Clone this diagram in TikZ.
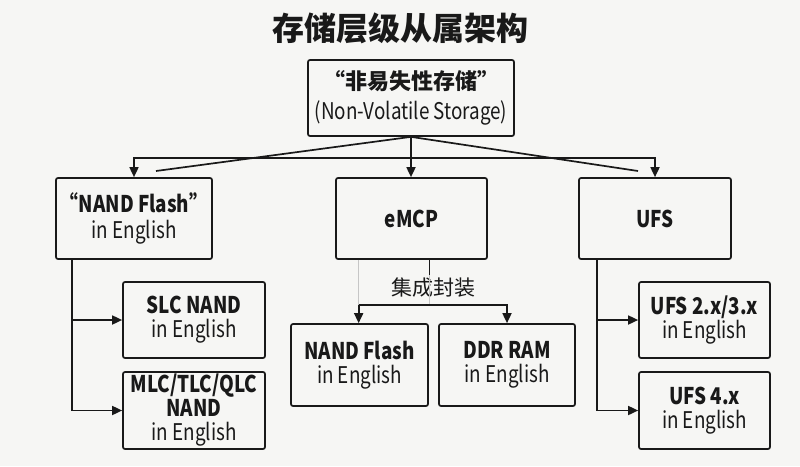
\documentclass[tikz,border=0pt]{standalone}
\usepackage{fontspec}
\setmainfont{Noto Sans CJK SC}[FakeStretch=0.82]
\newfontfamily\cjk{Noto Sans CJK SC}
\usetikzlibrary{arrows.meta,calc}
\definecolor{bgc}{RGB}{246,246,244}
\definecolor{ink}{RGB}{25,25,25}
\tikzset{
  box/.style={draw=ink, line width=1.7pt, rounded corners=2pt, align=center, inner sep=0pt,
    font=\fontsize{23}{24}\selectfont, text=ink},
  arr/.style={draw=ink, line width=1.7pt, -{Triangle[length=10pt,width=9pt]}},
  ln/.style={draw=ink, line width=1.7pt},
  faint/.style={draw=gray!45, line width=0.6pt},
}
\begin{document}
\begin{tikzpicture}[x=1pt,y=-1pt]
\fill[bgc] (0,0) rectangle (800,466);
\useasboundingbox (0,0) rectangle (800,466);

\node[font=\cjk\fontsize{32}{36}\selectfont\bfseries, text=ink] (title) at (400,28) {存储层级从属架构};

\node[box, minimum width=206pt, minimum height=76pt, font=\fontsize{23}{30}\selectfont] (root) at (411,98)
  {{\cjk\fontsize{22}{30}\selectfont\bfseries “非易失性存储”}\\(Non-Volatile Storage)};

\node[box, minimum width=156pt, minimum height=81pt, font=\fontsize{23}{26}\selectfont] (nand) at (134,218.5) {\textbf{“NAND Flash”}\\in English};
\node[box, minimum width=151pt, minimum height=81pt, font=\fontsize{23}{25}\selectfont\bfseries] (emcp) at (411.5,218.5) {eMCP};
\node[box, minimum width=152pt, minimum height=81pt, font=\fontsize{23}{25}\selectfont\bfseries] (ufs) at (655,218.5) {UFS};

\node[box, minimum width=142pt, minimum height=76pt] (slc) at (194,320) {\textbf{SLC NAND}\\in English};
\node[box, minimum width=142pt, minimum height=77pt] (mlc) at (194,410.5) {\textbf{MLC/TLC/QLC}\\\textbf{NAND}\\in English};

\node[box, minimum width=137pt, minimum height=82pt] (nf) at (359.5,365) {\textbf{NAND Flash}\\in English};
\node[box, minimum width=136pt, minimum height=82pt] (ddr) at (507,365) {\textbf{DDR RAM}\\in English};

\node[box, minimum width=131pt, minimum height=76pt] (u23) at (704.5,320) {\textbf{UFS 2.x/3.x}\\in English};
\node[box, minimum width=131pt, minimum height=77pt] (u4) at (704.5,410.5) {\textbf{UFS 4.x}\\in English};

\node[font=\cjk\fontsize{21}{24}\selectfont, text=ink] (pkg) at (433,288) {集成封装};

% root to level 1
\draw[arr] (root.south) -- (emcp.north -| root.south);
\draw[arr] (root.south) ++(0,21) -| (nand.north);
\draw[arr] (root.south) ++(0,21) -| (ufs.north);
\coordinate (dl) at (156,171);
\coordinate (dr) at (638,171);
\draw[ln] (root.south) -- (dl);
\draw[ln] (root.south) -- (dr);

% NAND children
\coordinate (nb) at ($(nand.south west)+(17,0)$);
\draw[arr] (nb) |- (slc.west);
\draw[arr] (nb) |- (mlc.west);

% UFS children
\coordinate (ub) at ($(ufs.south west)+(19,0)$);
\draw[arr] (ub) |- (u23.west);
\draw[arr] (ub) |- (u4.west);

% eMCP children
\coordinate (eb) at ($(emcp.south west)+(23.5,0)$);
\coordinate (tk) at ($(emcp.south west)+(94.5,0)$);
\draw[faint] (eb) -- ++(0,45);
\draw[faint] (tk) -- ++(0,45);
\draw[ln, line width=1pt] (tk) -- (pkg.north -| tk);
\draw[arr] ($(eb)+(0,45)$) -- (nf.north -| eb);
\draw[arr] ($(eb)+(0,45)$) -| (ddr.north);
\end{tikzpicture}
\end{document}
